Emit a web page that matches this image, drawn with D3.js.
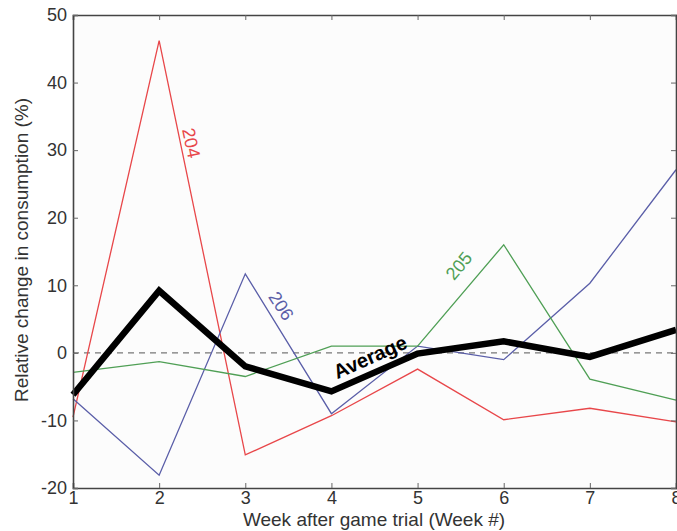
<!DOCTYPE html>
<html><head><meta charset="utf-8">
<script src="https://cdn.jsdelivr.net/npm/d3@7"></script>
<style>body{margin:0;background:#fff;}svg{display:block;font-family:"Liberation Sans",Arial,sans-serif;}</style>
</head><body>
<svg id="c" width="677" height="531"></svg>
<script>
const weeks = [1,2,3,4,5,6,7,8];
const s204 = [-9.5, 46.2, -15.1, -9.3, -2.4, -9.9, -8.2, -10.2];
const s206 = [-6.8, -18.1, 11.7, -9.0, 1.0, -1.0, 10.3, 27.1];
const s205 = [-2.9, -1.3, -3.5, 1.0, 1.0, 16.0, -3.9, -7.0];
const avg  = [-6.2, 9.2, -2.0, -5.7, -0.1, 1.7, -0.6, 3.4];
const yTicks = [-20,-10,0,10,20,30,40,50];
const xTicks = [1,2,3,4,5,6,7,8];

const svg = d3.select("#c");
const L=73, R=676, T=15, B=488;
const x = d3.scaleLinear().domain([1,8]).range([L,R]);
const y = d3.scaleLinear().domain([-20,50]).range([B,T]);
svg.append("rect").attr("x",L).attr("y",T).attr("width",R-L).attr("height",B-T).attr("fill","#fcfcfc");

svg.append("line").attr("x1",L).attr("x2",R).attr("y1",y(0)).attr("y2",y(0))
  .attr("stroke","#777").attr("stroke-width",1.3).attr("stroke-dasharray","6,5");

const line = d3.line().x((d,i)=>x(weeks[i])).y(d=>y(d));
const series = [
  {v:s204,c:"#e8474a",w:1.3},
  {v:s206,c:"#5a5ea8",w:1.3},
  {v:s205,c:"#4f9f55",w:1.3},
  {v:avg,c:"#000",w:6.5}
];
series.forEach(s=>{
  svg.append("path").datum(s.v).attr("d",line).attr("fill","none")
    .attr("stroke",s.c).attr("stroke-width",s.w).attr("stroke-linejoin","miter");
});

const fmt = d=>String(d);
const ax = svg.append("g");
const xb = ax.append("g").attr("transform",`translate(0,${B})`).call(d3.axisBottom(x).tickValues(xTicks).tickSize(-5).tickPadding(3).tickFormat(fmt));
const xt = ax.append("g").attr("transform",`translate(0,${T})`).call(d3.axisTop(x).tickValues(xTicks).tickSize(-5).tickFormat(""));
const yl = ax.append("g").attr("transform",`translate(${L},0)`).call(d3.axisLeft(y).tickValues(yTicks).tickSize(-5).tickPadding(6).tickFormat(fmt));
const yr = ax.append("g").attr("transform",`translate(${R},0)`).call(d3.axisRight(y).tickValues(yTicks).tickSize(-5).tickFormat(""));
[xb,xt,yl,yr].forEach(g=>{
  g.select(".domain").attr("stroke","#444").attr("stroke-width",1.6);
  g.selectAll(".tick line").attr("stroke","#666");
  g.selectAll(".tick text").attr("fill","#333").attr("font-size",18).attr("font-family","'Liberation Sans',Arial,sans-serif");
});

svg.append("text").attr("x",374).attr("y",526).attr("text-anchor","middle").attr("font-size",19).attr("fill","#333").text("Week after game trial (Week #)");
svg.append("text").attr("transform","translate(28,250) rotate(-90)").attr("text-anchor","middle").attr("font-size",19).attr("fill","#333").text("Relative change in consumption (%)");

function lab(t,cx,cy,ang,col,size,wt){
  svg.append("text").attr("transform",`translate(${cx},${cy}) rotate(${ang})`)
    .attr("text-anchor","middle").attr("dominant-baseline","central")
    .attr("font-size",size).attr("font-weight",wt||"normal").attr("fill",col).text(t);
}
lab("204",191,143,78,"#e8474a",18);
lab("206",281,306,57,"#5a5ea8",18);
lab("205",459,266,-50,"#4f9f55",18);
lab("Average",370,357,-24,"#000",20,"bold");
</script>
</body></html>
